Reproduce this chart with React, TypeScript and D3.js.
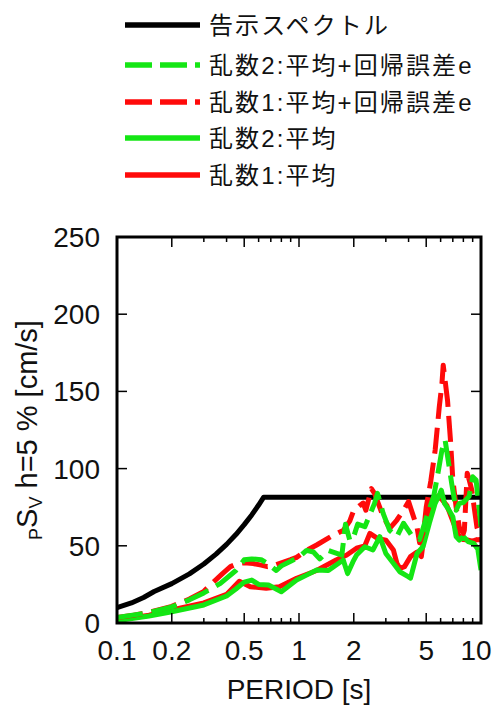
import React from "react";
import * as d3 from "d3";

// ---- data ----
const periodsKokuji = [0.1, 0.12, 0.14, 0.16, 0.2, 0.25, 0.3, 0.35, 0.4, 0.45, 0.5, 0.55, 0.6, 0.64, 10];
const svKokuji = [9.9, 13.0, 16.5, 20.4, 25.5, 31.8, 38.2, 44.6, 50.9, 57.3, 63.7, 70.0, 76.4, 81.5, 81.5];

const periodsR1e = [0.1, 0.12, 0.15, 0.2, 0.25, 0.3, 0.34, 0.38, 0.42, 0.46, 0.5, 0.56, 0.62, 0.67, 0.72, 0.8, 0.9, 0.97, 1.1, 1.25, 1.5, 1.75, 1.9, 2.0, 2.15, 2.25, 2.33, 2.5, 2.6, 2.9, 3.15, 3.45, 3.75, 4.0, 4.2, 4.45, 4.6, 4.85, 5.0, 5.3, 5.6, 5.9, 6.1, 6.2, 6.35, 6.55, 6.8, 7.0, 7.3, 7.6, 8.0, 8.1, 8.4, 8.6, 8.9, 9.5, 10];
const svR1e = [3.5, 4.8, 7, 10.8, 15.5, 20.5, 26.7, 32, 36.5, 38.5, 39, 38.5, 37.5, 36.5, 37, 39, 41, 42.5, 47, 50.5, 56, 60, 66, 73, 76, 77.7, 73, 87, 84, 69, 61.3, 66.7, 73, 78.6, 71, 62, 52, 60, 75, 92, 112, 140, 155, 167, 157, 144, 118, 93, 75, 62, 58, 60, 97, 93, 86, 62, 54];

const periodsR2e = [0.1, 0.15, 0.2, 0.25, 0.3, 0.37, 0.45, 0.5, 0.55, 0.62, 0.68, 0.75, 0.8, 0.9, 1.0, 1.1, 1.2, 1.3, 1.45, 1.72, 1.8, 1.9, 1.97, 2.1, 2.3, 2.45, 2.6, 2.7, 2.9, 3.15, 3.45, 3.75, 4.15, 4.6, 5.0, 5.5, 5.8, 6.1, 6.35, 6.55, 6.9, 7.3, 7.6, 8.0, 8.6, 9.0, 9.4, 10];
const svR2e = [3.5, 6.7, 10.4, 15, 19.5, 25.7, 34, 41, 41.5, 41, 38, 34, 37, 40, 42.7, 47, 46, 41.5, 47, 44, 64, 53.7, 53.7, 64, 62.4, 70, 77.5, 84, 71, 60, 56, 64.6, 57, 54, 68, 82, 97, 112, 118.5, 108, 90.5, 73, 77.5, 78, 82, 94.7, 92.6, 62.4];

const periodsR2 = [0.1, 0.15, 0.2, 0.3, 0.4, 0.45, 0.5, 0.55, 0.6, 0.68, 0.8, 0.97, 1.1, 1.25, 1.45, 1.6, 1.75, 1.85, 1.98, 2.07, 2.3, 2.55, 2.78, 3.0, 3.3, 3.58, 3.98, 4.1, 4.45, 4.8, 5.2, 5.6, 5.95, 6.05, 6.3, 6.6, 7.0, 7.3, 7.6, 8.0, 8.5, 9.1, 9.6, 10];
const svR2 = [1.5, 4.5, 7.3, 11.7, 17.5, 22, 26.5, 27.8, 25, 24.6, 20.3, 27.8, 31, 34.3, 34, 37.6, 40.8, 32, 39.7, 44, 49.4, 47.3, 55.9, 45, 38.7, 33.2, 30, 29, 45, 49.4, 64.6, 77.5, 84, 86, 77.5, 74, 68.8, 56, 53.7, 56, 52.7, 51.6, 48, 34.3];

const periodsR1 = [0.1, 0.15, 0.2, 0.3, 0.4, 0.47, 0.54, 0.66, 0.78, 0.97, 1.25, 1.6, 1.83, 2.07, 2.3, 2.45, 2.7, 3.0, 3.3, 3.45, 3.58, 3.8, 4.1, 4.45, 4.7, 5.0, 5.4, 5.8, 6.1, 6.5, 7.0, 7.5, 8.0, 8.5, 9.0, 9.5, 10];
const svR1 = [2, 5, 8.5, 13, 18.5, 27, 23.5, 22.5, 23.5, 29, 34, 40.8, 44, 48.4, 50, 58, 54.8, 53.7, 47.3, 38.7, 35.4, 36.5, 43, 46, 43, 66.7, 80, 82, 80, 76, 66, 57, 54, 53.7, 53, 54, 53.7];

const xMajorTicks = [0.1, 0.2, 0.5, 1, 2, 5, 10];
const xTickLabels = ["0.1", "0.2", "0.5", "1", "2", "5", "10"];
const xMinorTicks = [0.3, 0.4, 0.6, 0.7, 0.8, 0.9, 3, 4, 6, 7, 8, 9];
const yTicks = [0, 50, 100, 150, 200, 250];

const legendLabels = ["告示スペクトル", "乱数2:平均+回帰誤差e", "乱数1:平均+回帰誤差e", "乱数2:平均", "乱数1:平均"];

const GREEN = "#14e614";
const RED = "#ff0a0a";

const FONT = "'Liberation Sans', Arial, 'Noto Sans CJK JP', sans-serif";

export default function App() {
  const left = 117, right = 481, top = 237, bottom = 623;
  const x = d3.scaleLog().domain([0.1, 10]).range([left, right]);
  const y = d3.scaleLinear().domain([0, 250]).range([bottom, top]);

  const mk = (ps: number[], vs: number[]) =>
    d3.line<number>().x((_, i) => x(ps[i])).y((v) => y(v))(vs) || "";

  const series = [
    { d: mk(periodsKokuji, svKokuji), color: "#000", dash: undefined as string | undefined },
    { d: mk(periodsR1, svR1), color: RED, dash: undefined },
    { d: mk(periodsR2, svR2), color: GREEN, dash: undefined },
    { d: mk(periodsR1e, svR1e), color: RED, dash: "26 9" },
    { d: mk(periodsR2e, svR2e), color: GREEN, dash: "26 9" },
  ];

  const legendStyles = [
    { color: "#000", dash: undefined as string | undefined },
    { color: GREEN, dash: "27 8" },
    { color: RED, dash: "27 8" },
    { color: GREEN, dash: undefined },
    { color: RED, dash: undefined },
  ];
  const legendY = [25, 65, 102, 138, 175];

  return (
    <svg width={501} height={709} style={{ position: "absolute", left: 0, top: 0 }} fontFamily={FONT}>
      <rect width={501} height={709} fill="#fff" />
      {/* legend */}
      {legendLabels.map((lab, i) => (
        <g key={lab}>
          <line x1={125} x2={200} y1={legendY[i]} y2={legendY[i]} stroke={legendStyles[i].color}
            strokeWidth={5.5} strokeDasharray={legendStyles[i].dash} />
          <text x={209} y={legendY[i]} dy="0.36em" fontSize={24} letterSpacing={2.1} fill="#111">{lab}</text>
        </g>
      ))}

      {/* data lines */}
      <defs>
        <clipPath id="plotclip">
          <rect x={left} y={top} width={right - left} height={bottom - top} />
        </clipPath>
      </defs>
      <g clipPath="url(#plotclip)">
        {series.map((s, i) => (
          <path key={i} d={s.d} fill="none" stroke={s.color} strokeWidth={5}
            strokeDasharray={s.dash} strokeLinejoin="round" />
        ))}
      </g>

      {/* ticks */}
      {xMajorTicks.map((t) => (
        <g key={"xm" + t}>
          <line x1={x(t)} x2={x(t)} y1={bottom} y2={bottom - 10} stroke="#000" strokeWidth={1.5} />
          <line x1={x(t)} x2={x(t)} y1={top} y2={top + 10} stroke="#000" strokeWidth={1.5} />
        </g>
      ))}
      {xMinorTicks.map((t) => (
        <g key={"xn" + t}>
          <line x1={x(t)} x2={x(t)} y1={bottom} y2={bottom - 5} stroke="#000" strokeWidth={1.5} />
          <line x1={x(t)} x2={x(t)} y1={top} y2={top + 5} stroke="#000" strokeWidth={1.5} />
        </g>
      ))}
      {yTicks.map((t) => (
        <g key={"y" + t}>
          <line x1={left} x2={left + 10} y1={y(t)} y2={y(t)} stroke="#000" strokeWidth={1.5} />
          <line x1={right} x2={right - 10} y1={y(t)} y2={y(t)} stroke="#000" strokeWidth={1.5} />
        </g>
      ))}

      {/* frame */}
      <rect x={left} y={top} width={right - left} height={bottom - top} fill="none" stroke="#000" strokeWidth={3} />

      {/* tick labels */}
      {yTicks.map((t) => (
        <text key={"yl" + t} x={100} y={y(t)} dy="0.36em" textAnchor="end" fontSize={28} fill="#111">{t}</text>
      ))}
      {xMajorTicks.map((t, i) => (
        <text key={"xl" + t} x={i === xMajorTicks.length - 1 ? x(t) - 5 : x(t)} y={660} textAnchor="middle" fontSize={28} fill="#111">{xTickLabels[i]}</text>
      ))}

      {/* axis titles */}
      <text x={(left + right) / 2} y={699} textAnchor="middle" fontSize={28} fill="#111">PERIOD [s]</text>
      <text transform={`translate(37,${(top + bottom) / 2}) rotate(-90)`} textAnchor="middle" fontSize={29} fill="#111">
        <tspan fontSize={18} dy={5}>P</tspan>
        <tspan dy={-5}>S</tspan>
        <tspan fontSize={18} dy={5}>V</tspan>
        <tspan dy={-5}> h=5 % [cm/s]</tspan>
      </text>
    </svg>
  );
}
